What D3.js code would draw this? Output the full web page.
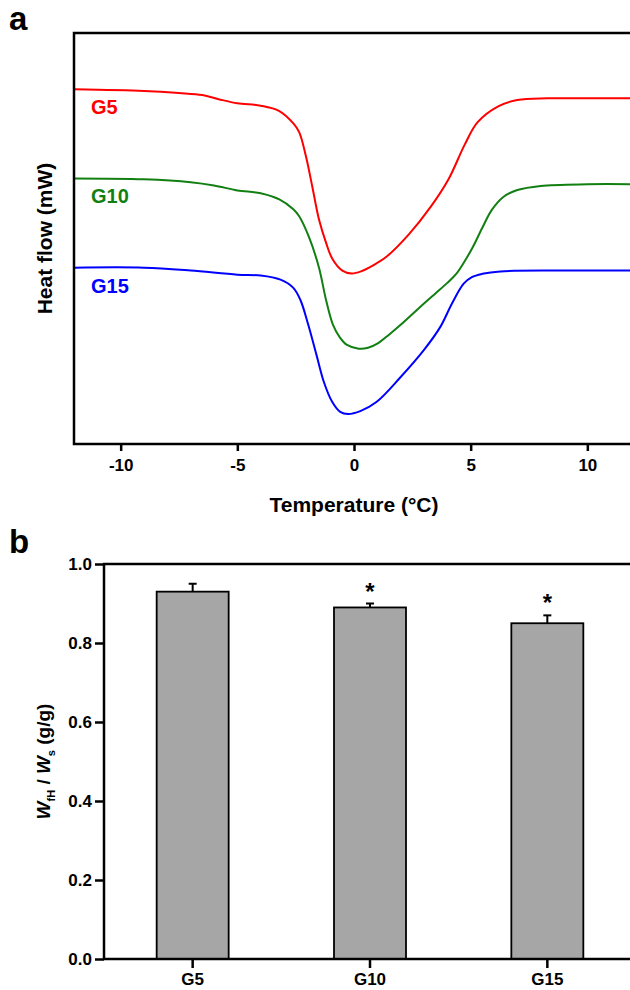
<!DOCTYPE html>
<html>
<head>
<meta charset="utf-8">
<script src="https://cdn.jsdelivr.net/npm/d3@7"></script>
<style>
  body { margin: 0; background: #fff; }
  svg { display: block; }
  text { font-family: "Liberation Sans", Arial, sans-serif; font-weight: bold; fill: #000; }
</style>
</head>
<body>
<svg id="fig" width="630" height="990"></svg>
<script>
// DSC traces: [temperature (°C), heat flow (arbitrary, offset)]
const g5 = [[-12, 8.63], [-9, 8.59], [-7.5, 8.54], [-6.5, 8.49], [-5.8, 8.39], [-5, 8.29], [-4, 8.23],
  [-3.2, 8.10], [-2.6, 7.80], [-2.35, 7.59], [-2.06, 7.00], [-1.78, 6.24], [-1.5, 5.46], [-1.2, 4.90],
  [-0.93, 4.51], [-0.5, 4.22], [-0.1, 4.15], [0.3, 4.20], [0.8, 4.34], [1.4, 4.56], [2.35, 5.10],
  [3.3, 5.78], [4.05, 6.44], [4.75, 7.29], [5.3, 7.83], [6.2, 8.22], [7.0, 8.37], [8.3, 8.41],
  [10, 8.41], [12, 8.41]];
const g10 = [[-12, 6.46], [-9, 6.44], [-7, 6.37], [-6, 6.29], [-5, 6.17], [-4, 6.10], [-3.2, 5.95],
  [-2.6, 5.71], [-2.35, 5.54], [-1.92, 5.02], [-1.5, 4.29], [-1.2, 3.51], [-0.9, 2.90], [-0.6, 2.59],
  [-0.3, 2.41], [0.2, 2.32], [0.6, 2.34], [1.0, 2.44], [1.5, 2.66], [2.0, 2.90], [3.0, 3.42],
  [3.5, 3.67], [4.0, 3.92], [4.4, 4.15], [4.8, 4.50], [5.1, 4.80], [5.5, 5.26], [5.9, 5.69],
  [6.4, 6.01], [7.0, 6.18], [8.0, 6.28], [10, 6.32], [12, 6.32]];
const g15 = [[-12, 4.29], [-9, 4.29], [-7, 4.22], [-5, 4.12], [-4, 4.10], [-3.15, 4.00], [-2.6, 3.80],
  [-2.3, 3.51], [-1.96, 2.90], [-1.6, 2.15], [-1.28, 1.49], [-0.93, 1.02], [-0.59, 0.78],
  [-0.25, 0.73], [0.27, 0.80], [0.96, 1.02], [2.0, 1.63], [3.0, 2.29], [3.7, 2.85], [4.2, 3.42],
  [4.7, 3.90], [5.05, 4.06], [5.5, 4.14], [6.27, 4.20], [8.8, 4.22], [12, 4.22]];
const tempTicks = [-10, -5, 0, 5, 10];

// bar chart
const groups = ["G5", "G10", "G15"];
const ratio = [0.93, 0.89, 0.85];
const ratioErr = [0.02, 0.01, 0.02];
const signif = [false, true, true];
const ratioTicks = [0, 0.2, 0.4, 0.6, 0.8, 1.0];

const svg = d3.select("#fig");

// ---------- panel a ----------
const xA = d3.scaleLinear().domain([-12, 12]).range([74, 634]);
const yA = d3.scaleLinear().domain([0, 10]).range([444, 33]);

svg.append("text").attr("x", 9).attr("y", 30).style("font-size", "33px").text("a");

svg.append("clipPath").attr("id", "clipA")
  .append("rect")
  .attr("x", xA(-12)).attr("y", yA(10))
  .attr("width", xA(12) - xA(-12)).attr("height", yA(0) - yA(10));

const traces = [
  { name: "G5", data: g5, color: "#ff0000" },
  { name: "G10", data: g10, color: "#127f12" },
  { name: "G15", data: g15, color: "#0000ff" }
];

const line = d3.line()
  .x(d => xA(d[0]))
  .y(d => yA(d[1]))
  .curve(d3.curveCatmullRom.alpha(0.5));

svg.append("g").attr("clip-path", "url(#clipA)")
  .selectAll("path")
  .data(traces)
  .enter()
  .append("path")
  .attr("fill", "none")
  .attr("stroke", d => d.color)
  .attr("stroke-width", 2)
  .attr("d", d => line(d.data));

svg.append("g")
  .selectAll("text")
  .data(traces)
  .enter()
  .append("text")
  .attr("x", xA(-12) + 17)
  .attr("y", d => yA(d.data[0][1]) + 25)
  .style("font-size", "20px")
  .style("fill", d => d.color)
  .text(d => d.name);

const axA = svg.append("g")
  .attr("transform", `translate(0,${yA(0)})`)
  .call(d3.axisBottom(xA).tickValues(tempTicks).tickFormat(d => String(d))
    .tickSize(7).tickSizeOuter(0).tickPadding(8));
axA.select(".domain").remove();
axA.selectAll("line").attr("stroke", "#000").attr("stroke-width", 2.5);
axA.selectAll("text").style("font-size", "17px").style("font-family", null);

svg.append("rect")
  .attr("x", xA(-12)).attr("y", yA(10))
  .attr("width", xA(12) - xA(-12)).attr("height", yA(0) - yA(10))
  .attr("fill", "none").attr("stroke", "#000").attr("stroke-width", 2.5);

svg.append("text")
  .attr("x", xA(0)).attr("y", 512)
  .attr("text-anchor", "middle")
  .style("font-size", "21px")
  .text("Temperature (°C)");

svg.append("text")
  .attr("transform", `translate(52,${(yA(0) + yA(10)) / 2}) rotate(-90)`)
  .attr("text-anchor", "middle")
  .style("font-size", "21px")
  .text("Heat flow (mW)");

// ---------- panel b ----------
const xB = d3.scaleBand().domain(groups).range([104, 636]).paddingInner(0.594).paddingOuter(0.297);
const yB = d3.scaleLinear().domain([0, 1]).range([959, 564]);

svg.append("text").attr("x", 9).attr("y", 553).style("font-size", "33px").text("b");

const bars = groups.map((g, i) => ({ g, v: ratio[i], e: ratioErr[i], s: signif[i] }));

svg.append("g")
  .selectAll("rect")
  .data(bars)
  .enter()
  .append("rect")
  .attr("x", d => xB(d.g))
  .attr("y", d => yB(d.v))
  .attr("width", xB.bandwidth())
  .attr("height", d => yB(0) - yB(d.v))
  .attr("fill", "#a6a6a6")
  .attr("stroke", "#000")
  .attr("stroke-width", 1.8);

const err = svg.append("g").attr("stroke", "#000").attr("stroke-width", 2);
err.selectAll("line.v")
  .data(bars)
  .enter()
  .append("line")
  .attr("class", "v")
  .attr("x1", d => xB(d.g) + xB.bandwidth() / 2)
  .attr("x2", d => xB(d.g) + xB.bandwidth() / 2)
  .attr("y1", d => yB(d.v))
  .attr("y2", d => yB(d.v + d.e));
err.selectAll("line.c")
  .data(bars)
  .enter()
  .append("line")
  .attr("class", "c")
  .attr("x1", d => xB(d.g) + xB.bandwidth() / 2 - 4)
  .attr("x2", d => xB(d.g) + xB.bandwidth() / 2 + 4)
  .attr("y1", d => yB(d.v + d.e))
  .attr("y2", d => yB(d.v + d.e));

svg.append("g")
  .selectAll("text")
  .data(bars.filter(d => d.s))
  .enter()
  .append("text")
  .attr("x", d => xB(d.g) + xB.bandwidth() / 2)
  .attr("y", d => yB(d.v + d.e) - 4)
  .attr("text-anchor", "middle")
  .style("font-size", "24px")
  .text("*");

const axBy = svg.append("g")
  .attr("transform", `translate(104,0)`)
  .call(d3.axisLeft(yB).tickValues(ratioTicks).tickFormat(d3.format(".1f"))
    .tickSize(9).tickSizeOuter(0).tickPadding(3));
axBy.select(".domain").remove();
axBy.selectAll("line").attr("stroke", "#000").attr("stroke-width", 2.5);
axBy.selectAll("text").style("font-size", "17px").style("font-family", null);

const axBx = svg.append("g")
  .attr("transform", `translate(0,${yB(0)})`)
  .call(d3.axisBottom(xB).tickSize(9).tickSizeOuter(0).tickPadding(5));
axBx.select(".domain").remove();
axBx.selectAll("line").attr("stroke", "#000").attr("stroke-width", 2.5);
axBx.selectAll("text").style("font-size", "17px").style("font-family", null);

svg.append("rect")
  .attr("x", 104).attr("y", yB(1))
  .attr("width", 636 - 104).attr("height", yB(0) - yB(1))
  .attr("fill", "none").attr("stroke", "#000").attr("stroke-width", 2.5);

const yl = svg.append("text")
  .attr("transform", `translate(50,${(yB(0) + yB(1)) / 2}) rotate(-90)`)
  .attr("text-anchor", "middle")
  .style("font-size", "19px");
yl.append("tspan").style("font-style", "italic").text("W");
yl.append("tspan").attr("dy", 5).style("font-size", "11px").text("fH");
yl.append("tspan").attr("dy", -5).text(" / ");
yl.append("tspan").style("font-style", "italic").text("W");
yl.append("tspan").attr("dy", 5).style("font-size", "11px").text("s");
yl.append("tspan").attr("dy", -5).text(" (g/g)");
</script>
</body>
</html>
